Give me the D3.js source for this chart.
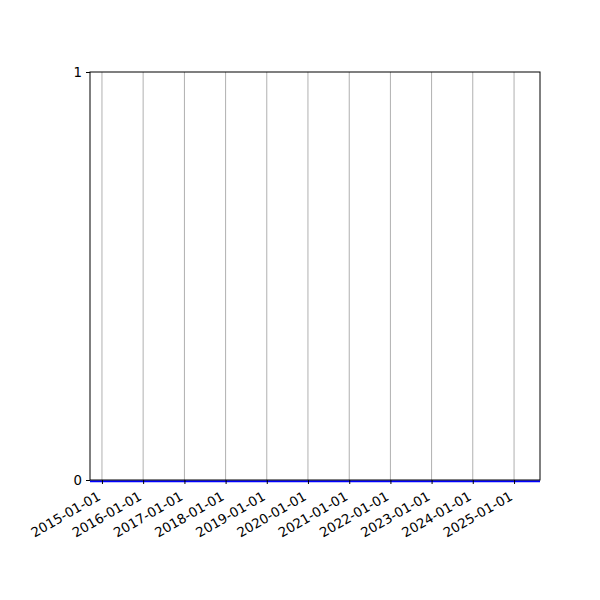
<!DOCTYPE html>
<html>
<head>
<meta charset="utf-8">
<script src="https://d3js.org/d3.v7.min.js"></script>
<style>
  body { margin: 0; background: #fff; }
  text { font-family: "DejaVu Sans", sans-serif; font-size: 13.3px; fill: #000; }
</style>
</head>
<body>
<svg width="600" height="600"></svg>
<script>
    // series: dates and values (flat at zero)
    const dates = ["2014-09-17", "2016-01-01", "2018-01-01", "2020-01-01", "2022-01-01", "2024-01-01", "2025-08-19"];
    const values = [0, 0, 0, 0, 0, 0, 0];
    const tickDates = ["2015-01-01", "2016-01-01", "2017-01-01", "2018-01-01", "2019-01-01", "2020-01-01",
                       "2021-01-01", "2022-01-01", "2023-01-01", "2024-01-01", "2025-01-01"];
    const yTicks = [0, 1];

    const parse = d3.utcParse("%Y-%m-%d");
    const data = dates.map((d, i) => ({ date: parse(d), value: values[i] }));

    const plotL = 90, plotR = 540, plotT = 72, plotB = 480;
    const svg = d3.select("svg");

    const x = d3.scaleUtc()
        .domain(d3.extent(data, d => d.date))
        .range([plotL, plotR]);
    const y = d3.scaleLinear()
        .domain([0, 1])
        .range([plotB, plotT]);

    // vertical grid
    svg.append("g")
        .selectAll("line").data(tickDates).enter().append("line")
            .attr("x1", d => x(parse(d)))
            .attr("x2", d => x(parse(d)))
            .attr("y1", plotT)
            .attr("y2", plotB)
            .attr("stroke", "#b0b0b0")
            .attr("stroke-width", 1);

    // the line
    const line = d3.line()
        .x(d => x(d.date))
        .y(d => y(d.value));
    svg.append("path")
        .datum(data)
        .attr("d", line)
        .attr("fill", "none")
        .attr("stroke", "#0000ff")
        .attr("stroke-width", 2)
        .attr("transform", "translate(0,1.2)");

    // axes
    const xAxis = svg.append("g")
        .attr("transform", "translate(0," + plotB + ")")
        .call(d3.axisBottom(x)
            .tickValues(tickDates.map(parse))
            .tickFormat(d3.utcFormat("%Y-%m-%d"))
            .tickSize(4)
            .tickSizeOuter(0));
    xAxis.select(".domain").remove();
    xAxis.selectAll(".tick line").attr("stroke", "#000");
    xAxis.selectAll(".tick text")
        .attr("text-anchor", "end")
        .attr("dx", 0)
        .attr("dy", 0)
        .attr("y", 0)
        .attr("transform", "translate(-1,19) rotate(-30)")
        .style("font-size", "13.3px");

    const yAxis = svg.append("g")
        .attr("transform", "translate(" + plotL + ",0)")
        .call(d3.axisLeft(y)
            .tickValues(yTicks)
            .tickFormat(d3.format("d"))
            .tickSize(4)
            .tickSizeOuter(0));
    yAxis.select(".domain").remove();
    yAxis.selectAll(".tick text")
        .attr("x", -8)
        .style("font-size", "13.3px");

    // frame
    svg.append("rect")
        .attr("x", plotL)
        .attr("y", plotT)
        .attr("width", plotR - plotL)
        .attr("height", plotB - plotT)
        .attr("fill", "none")
        .attr("stroke", "#000")
        .attr("stroke-width", 1);
</script>
</body>
</html>
